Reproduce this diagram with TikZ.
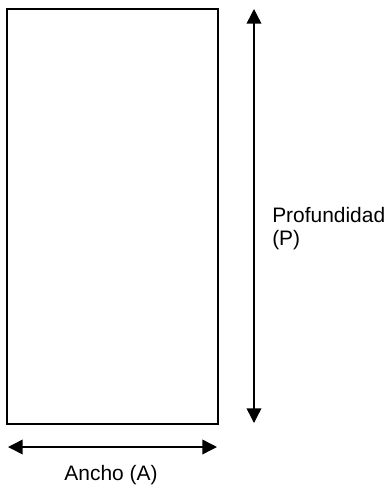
\documentclass[tikz,border=0pt]{standalone}
\usepackage{fontspec}
\setmainfont{Liberation Sans}
\usetikzlibrary{arrows.meta}

\tikzset{
	cota/.style={{Triangle[length=11pt,width=11pt]}-{Triangle[length=11pt,width=11pt]}, line width=1.1pt},
	rotulo/.style={inner sep=0pt, font=\fontsize{15.7}{17.25}\selectfont}
}

\begin{document}
\begin{tikzpicture}[x=0.75pt,y=-0.75pt]
		\useasboundingbox (0,0) rectangle (388,485);
		% planta del mueble
		\node[draw, line width=1.1pt, inner sep=0pt, minimum width=158.25pt, minimum height=311.25pt] (planta) at (112.5,216.5) {};
		% cotas
		\coordinate (pArriba) at (254,9);
		\coordinate (pAbajo) at (254,423);
		\coordinate (aIzq) at (8,447);
		\coordinate (aDer) at (217,447);
		\draw[cota] (pArriba) -- (pAbajo);
		\draw[cota] (aIzq) -- (aDer);
		\node[rotulo, anchor=base west, align=left] (prof) at (272,245) {Profundidad\\(P)};
		\node[rotulo, anchor=base] (ancho) at (111,480) {Ancho (A)};
\end{tikzpicture}
\end{document}
